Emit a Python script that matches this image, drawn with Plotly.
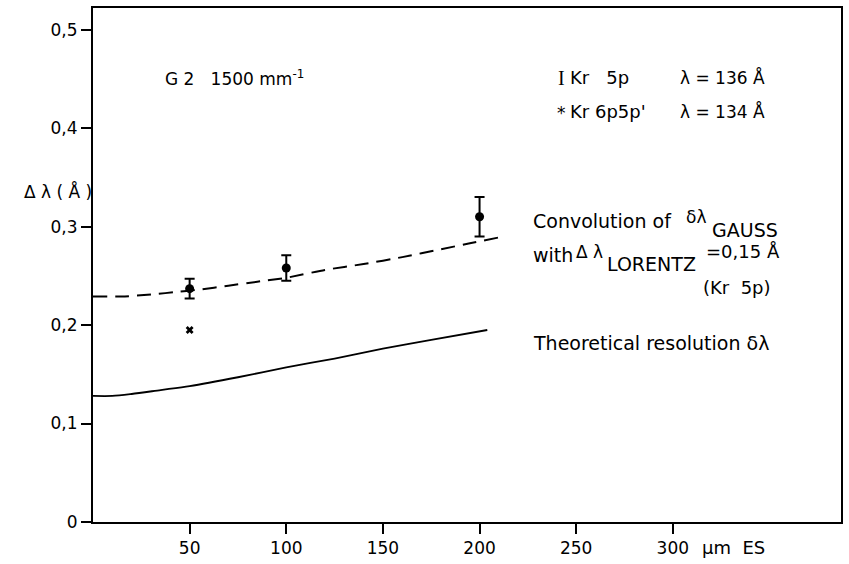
import plotly.graph_objects as go

# ---- data ----
kr5p_x = [50, 100, 200]
kr5p_y = [0.237, 0.258, 0.310]
kr5p_err = [0.010, 0.013, 0.020]

kr6p_x = [50]
kr6p_y = [0.195]

conv_x = [0, 15, 30, 45, 55, 70, 85, 100, 120, 140, 160, 180, 195, 210]
conv_y = [0.229, 0.229, 0.231, 0.234, 0.236, 0.240, 0.244, 0.248, 0.256, 0.262, 0.269, 0.277, 0.283, 0.289]

theo_x = [0, 10, 20, 35, 50, 75, 100, 125, 150, 175, 204]
theo_y = [0.128, 0.128, 0.130, 0.134, 0.138, 0.147, 0.157, 0.166, 0.176, 0.185, 0.195]

x_tickvals = [50, 100, 150, 200, 250, 300]
x_ticktext = ["50", "100", "150", "200", "250", "300"]
y_tickvals = [0, 0.1, 0.2, 0.3, 0.4, 0.5]
y_ticktext = ["0", "0,1", "0,2", "0,3", "0,4", "0,5"]

FONT = "DejaVu Sans"
W, H = 849, 564
L, R, T, B = 93, 6, 6, 41
PW, PH = W - L - R, H - T - B


def px(xp):
    return (xp - L) / PW


def py(yp):
    return (H - B - yp) / PH


fig = go.Figure()

fig.add_trace(go.Scatter(
    x=theo_x, y=theo_y, mode="lines",
    line=dict(color="black", width=1.8, shape="spline", smoothing=0.8),
    showlegend=False, hoverinfo="skip"))

fig.add_trace(go.Scatter(
    x=conv_x, y=conv_y, mode="lines",
    line=dict(color="black", width=2, dash="14px,8px", shape="spline", smoothing=0.6),
    showlegend=False, hoverinfo="skip"))

fig.add_trace(go.Scatter(
    x=kr5p_x, y=kr5p_y, mode="markers",
    marker=dict(color="black", size=9, symbol="circle"),
    error_y=dict(type="data", array=kr5p_err, visible=True,
                 color="black", thickness=2, width=5),
    name="Kr 5p", showlegend=False))

fig.add_trace(go.Scatter(
    x=kr6p_x, y=kr6p_y, mode="markers",
    marker=dict(color="black", size=7, symbol="x"),
    name="Kr 6p5p'", showlegend=False))

NB = "\u00a0"
annos = [
    dict(text="\u0394 \u03bb ( \u00c5 )", xp=22, yp=191, size=17),
    dict(text="G 2" + NB * 3 + "1500 mm<sup>-1</sup>", xp=163, yp=76, size=17),
    dict(text="Kr" + NB * 3 + "5p", xp=569, yp=76, size=18),
    dict(text="\u03bb = 136 \u00c5", xp=680, yp=76, size=17),
    dict(text="Kr" + NB + "6p5p'", xp=569, yp=110, size=18),
    dict(text="\u03bb = 134 \u00c5", xp=680, yp=110, size=17),
    dict(text="Convolution" + NB + "of", xp=532, yp=220, size=19),
    dict(text="\u03b4\u03bb", xp=686, yp=216, size=17),
    dict(text="GAUSS", xp=712, yp=229, size=19),
    dict(text="with", xp=532, yp=254, size=19),
    dict(text="\u0394" + NB + "\u03bb", xp=575, yp=251, size=17),
    dict(text="LORENTZ", xp=606, yp=263, size=19),
    dict(text="=0,15 \u00c5", xp=706, yp=251, size=18),
    dict(text="(Kr" + NB * 2 + "5p)", xp=703, yp=287, size=18),
    dict(text="Theoretical" + NB + "resolution" + NB + "\u03b4\u03bb", xp=532, yp=343, size=19),
    dict(text="\u03bcm" + NB * 2 + "ES", xp=702, yp=549, size=18),
]

annotations = []
for a in annos:
    annotations.append(dict(
        text=a["text"], x=px(a["xp"]), y=py(a["yp"]), xref="paper", yref="paper",
        xanchor="left", yanchor="middle", showarrow=False,
        font=dict(family=FONT, size=a["size"], color="black")))

# legend icons
annotations.append(dict(text="I", x=px(563), y=py(76), xref="paper", yref="paper",
                        xanchor="center", yanchor="middle", showarrow=False,
                        font=dict(family="Liberation Serif", size=20, color="black")))
annotations.append(dict(text="*", x=px(563), y=py(112), xref="paper", yref="paper",
                        xanchor="center", yanchor="middle", showarrow=False,
                        font=dict(family=FONT, size=17, color="black")))

fig.update_layout(
    width=W, height=H,
    margin=dict(l=L, r=R, t=T, b=B, pad=0),
    paper_bgcolor="white", plot_bgcolor="white",
    font=dict(family=FONT, size=18, color="black"),
    annotations=annotations,
    showlegend=False,
)

fig.update_xaxes(
    range=[0, 387], showgrid=False, zeroline=False,
    showline=True, linecolor="black", linewidth=2, mirror=True,
    ticks="outside", ticklen=10, tickwidth=1.5, tickcolor="black",
    tickvals=x_tickvals, ticktext=x_ticktext,
    tickfont=dict(family=FONT, size=17, color="black"),
)
fig.update_yaxes(
    range=[0, 0.522], showgrid=False, zeroline=False,
    showline=True, linecolor="black", linewidth=2, mirror=True,
    ticks="outside", ticklen=10, tickwidth=2, tickcolor="black",
    tickvals=y_tickvals, ticktext=y_ticktext,
    tickfont=dict(family=FONT, size=17, color="black"),
)

fig.write_html("out.html",
               config={"displayModeBar": False},
               post_script="document.body.style.margin='0';document.body.style.overflow='hidden';")
